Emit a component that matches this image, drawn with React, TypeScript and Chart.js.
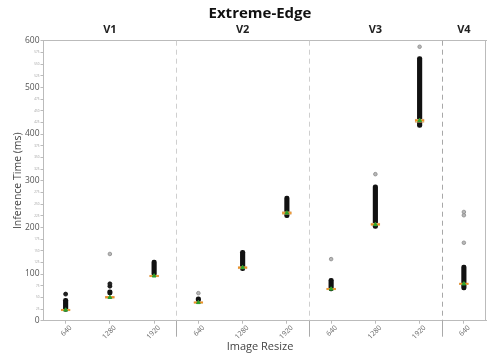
import React, { useEffect, useRef } from 'react';
import { Chart, registerables } from 'chart.js';

Chart.register(...registerables);

const categories = ['640', '1280', '1920', '640', '1280', '1920', '640', '1280', '1920', '640'];
const groupLabels = ['', 'V1', '', '', 'V2', '', '', 'V3', '', 'V4'];
const yTicks = [0, 25, 50, 75, 100, 125, 150, 175, 200, 225, 250, 275, 300, 325, 350, 375, 400, 425, 450, 475, 500, 525, 550, 575, 600];

const q1 = [21, 48, 94, 37, 111, 228, 66, 204, 425, 77];
const q3 = [25, 52, 98, 41, 116, 234, 70, 209, 432, 81];
const medians = [23, 50, 96, 39, 114, 231, 68, 206, 429, 79];
const means = [23, 50, 96, 39, 114, 231, 68, 206, 429, 79];
const denseLow = [20, 55, 96, 40, 107, 221, 64, 198, 414, 66];
const denseHigh = [48, 66, 130, 51, 151, 267, 91, 291, 566, 119];
const darkOutliers = [[57], [74, 79], [], [], [], [], [], [], [], []];
const greyOutliers = [[], [143], [], [59], [], [], [132], [314], [587], [167, 226, 233]];
const dividers = [2.5, 5.5, 8.5];

const FONT = "'Open Sans', 'DejaVu Sans', sans-serif";

const toPoints = (lists: number[][]) => {
  const pts: { x: number; y: number }[] = [];
  lists.forEach((list, i) => list.forEach((v) => pts.push({ x: i, y: v })));
  return pts;
};

export default function App() {
  const ref = useRef<HTMLCanvasElement | null>(null);

  useEffect(() => {
    document.body.style.margin = '0';
    const canvas = ref.current;
    if (!canvas) return;

    const framePlugin = {
      id: 'frame',
      beforeDatasetsDraw(chart: any) {
        const { ctx, chartArea, scales } = chart;
        const xs = scales.x;
        ctx.save();
        dividers.forEach((d, k) => {
          const x = (xs.getPixelForValue(Math.floor(d)) + xs.getPixelForValue(Math.ceil(d))) / 2;
          ctx.strokeStyle = k === 2 ? '#a8a8a8' : '#cfcfcf';
          ctx.lineWidth = 1;
          ctx.setLineDash([5, 4]);
          ctx.beginPath();
          ctx.moveTo(Math.round(x) + 0.5, chartArea.top);
          ctx.lineTo(Math.round(x) + 0.5, chartArea.bottom);
          ctx.stroke();
          ctx.setLineDash([]);
          ctx.strokeStyle = '#aaaaaa';
          ctx.beginPath();
          ctx.moveTo(Math.round(x) + 0.5, chartArea.bottom);
          ctx.lineTo(Math.round(x) + 0.5, chartArea.bottom + 16);
          ctx.stroke();
        });
        ctx.strokeStyle = '#bbbbbb';
        ctx.beginPath();
        ctx.moveTo(Math.round(chartArea.right) - 0.5, chartArea.top);
        ctx.lineTo(Math.round(chartArea.right) - 0.5, chartArea.bottom);
        ctx.stroke();
        ctx.restore();
      },
      afterDraw(chart: any) {
        const { ctx } = chart;
        ctx.save();
        ctx.textAlign = 'center';
        ctx.textBaseline = 'middle';
        ctx.fillStyle = '#111';
        ctx.font = `bold 15px ${FONT}`;
        ctx.fillText('Extreme-Edge', 260, 14);
        ctx.fillStyle = '#444';
        ctx.font = `11px ${FONT}`;
        ctx.fillText('Image Resize', 260, 347);
        ctx.restore();
      },
    };

    const chart = new Chart(canvas, {
      type: 'bar',
      data: {
        labels: categories,
        datasets: [
          {
            type: 'line',
            label: 'mean',
            data: means,
            showLine: false,
            pointStyle: 'triangle',
            pointRadius: 2.2,
            backgroundColor: '#2ca02c',
            borderColor: '#2ca02c',
            borderWidth: 1,
            order: 1,
          } as any,
          {
            type: 'line',
            label: 'median',
            data: medians,
            showLine: false,
            pointStyle: 'line',
            pointRadius: 4.5,
            borderColor: '#f0901e',
            borderWidth: 1.5,
            order: 2,
          } as any,
          {
            type: 'bar',
            label: 'box',
            data: categories.map((_, i) => [q1[i], q3[i]]),
            backgroundColor: '#ead2ae',
            borderColor: '#d7a26a',
            borderWidth: 1,
            borderSkipped: false,
            barThickness: 9,
            grouped: false,
            order: 3,
          } as any,
          {
            type: 'line',
            label: 'grey outliers',
            data: toPoints(greyOutliers),
            parsing: false,
            normalized: true,
            showLine: false,
            pointRadius: 1.8,
            backgroundColor: '#b8b8b8',
            borderColor: '#8a8a8a',
            borderWidth: 0.8,
            order: 4,
          } as any,
          {
            type: 'line',
            label: 'dark outliers',
            data: toPoints(darkOutliers),
            parsing: false,
            normalized: true,
            showLine: false,
            pointRadius: 2,
            backgroundColor: '#222',
            borderColor: '#111',
            borderWidth: 0.8,
            order: 5,
          } as any,
          {
            type: 'bar',
            label: 'dense outliers',
            data: categories.map((_, i) => [denseLow[i], denseHigh[i]]),
            backgroundColor: '#111',
            borderWidth: 0,
            borderRadius: 2.5,
            borderSkipped: false,
            barThickness: 4.5,
            grouped: false,
            order: 6,
          } as any,
        ],
      },
      options: {
        responsive: false,
        animation: false,
        layout: { padding: { left: 0, right: 1, top: 0, bottom: 0 } },
        plugins: {
          legend: { display: false },
          title: { display: false },
          tooltip: { enabled: false },
        },
        scales: {
          x: {
            type: 'category',
            position: 'bottom',
            offset: true,
            grid: { display: true, drawOnChartArea: false, offset: false, tickLength: 3, color: '#bbbbbb' },
            border: { display: true, color: '#bbbbbb' },
            ticks: {
              autoSkip: false,
              minRotation: 45,
              maxRotation: 45,
              labelOffset: 5,
              padding: 0,
              color: '#666',
              font: { size: 7, family: FONT },
            },
            afterFit: (s: any) => {
              s.height = 40.3;
            },
          },
          xTop: {
            type: 'category',
            position: 'top',
            labels: groupLabels,
            offset: true,
            grid: { display: false, drawTicks: false },
            border: { display: true, color: '#bbbbbb' },
            ticks: {
              autoSkip: false,
              maxRotation: 0,
              padding: 4,
              color: '#222',
              font: { size: 11, weight: 'bold', family: FONT },
            },
            afterFit: (s: any) => {
              s.height = 40.7;
            },
          },
          y: {
            type: 'linear',
            min: yTicks[0],
            max: yTicks[yTicks.length - 1],
            grid: { display: true, drawOnChartArea: false, tickLength: 3, color: '#bbbbbb' },
            border: { display: true, color: '#bbbbbb' },
            afterBuildTicks: (s: any) => {
              s.ticks = yTicks.map((v) => ({ value: v }));
            },
            ticks: {
              autoSkip: false,
              padding: 1,
              color: (c: any) => (c.tick && c.tick.value % 100 === 0 ? '#555' : '#999'),
              font: (c: any) =>
                c.tick && c.tick.value % 100 === 0
                  ? { size: 8.5, family: FONT }
                  : { size: 3, family: FONT },
            },
            title: {
              display: true,
              text: 'Inference Time (ms)',
              color: '#444',
              font: { size: 10.5, family: FONT },
              padding: { top: 12, bottom: 0 },
            },
            afterFit: (s: any) => {
              s.width = 43.5;
            },
          },
        },
      } as any,
      plugins: [framePlugin],
    });

    return () => chart.destroy();
  }, []);

  return (
    <div style={{ width: 492, height: 361 }}>
      <canvas ref={ref} width={492} height={361} />
    </div>
  );
}
